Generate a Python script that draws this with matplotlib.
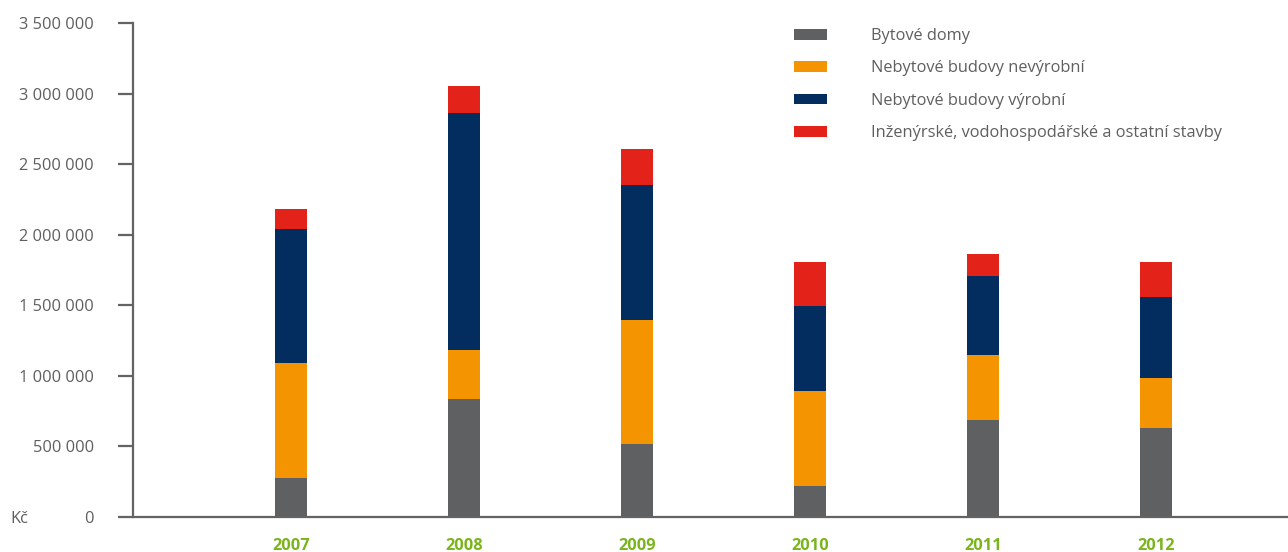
import matplotlib.pyplot as plt
from matplotlib.ticker import FuncFormatter
import numpy as np

plt.rcParams['font.family'] = ['Open Sans', 'DejaVu Sans']

# data (Kč)
years = ['2007', '2008', '2009', '2010', '2011', '2012']
bytove = [275000, 833000, 515000, 219000, 684000, 628000]
nevyrobni = [819000, 352000, 882000, 677000, 466000, 360000]
vyrobni = [945000, 1680000, 953000, 600000, 558000, 571000]
inzenyrske = [141000, 190000, 254000, 310000, 155000, 247000]

labels = ['Bytové domy', 'Nebytové budovy nevýrobní',
          'Nebytové budovy výrobní',
          'Inženýrské, vodohospodářské a ostatní stavby']
colors = ['#5f6062', '#f39400', '#022d5e', '#e3221a']

series = [bytove, nevyrobni, vyrobni, inzenyrske]

fig = plt.figure(figsize=(12.88, 5.52), dpi=100)
ax = fig.add_axes([133 / 1288, 1 - 517 / 552, 1 - 133 / 1288, (517 - 23) / 552])

x = np.arange(len(years))
bottom = np.zeros(len(years))
for vals, col, lab in zip(series, colors, labels):
    ax.bar(x, vals, width=32 / 173, bottom=bottom, color=col, label=lab, zorder=2)
    bottom += np.array(vals)

ax.set_xlim(-158 / 173, -158 / 173 + (1288 - 133) / 173)
ax.set_ylim(0, 3500000)
ax.set_yticks(np.arange(0, 3500001, 500000))
ax.yaxis.set_major_formatter(FuncFormatter(lambda v, p: f'{int(v):,}'.replace(',', ' ')))

grey = '#636363'
for s in ['top', 'right']:
    ax.spines[s].set_visible(False)
for s in ['left', 'bottom']:
    ax.spines[s].set_color(grey)
    ax.spines[s].set_linewidth(1.6)
    ax.spines[s].set_zorder(3)

fs = 11.8
ax.tick_params(axis='y', length=11, width=1.6, color=grey, labelcolor='#5f5f5f',
               labelsize=fs, pad=17)
ax.set_xticks(x)
ax.set_xticklabels(years, fontweight='bold', color='#7ab51d', fontsize=fs)
ax.tick_params(axis='x', length=0, pad=15)

fig.text(10 / 1288, 1 - 519 / 552, 'Kč', fontsize=fs, color='#5f5f5f', va='center', ha='left')

ax.legend(loc='upper left', bbox_to_anchor=(794 / 1288, 1 - 28 / 552),
          bbox_transform=fig.transFigure, frameon=False, fontsize=fs,
          handlelength=2.0, handleheight=0.62, handletextpad=2.7,
          labelspacing=1.0, borderpad=0, borderaxespad=0,
          labelcolor='#5f5f5f')

fig.savefig('out.png', dpi=100)
